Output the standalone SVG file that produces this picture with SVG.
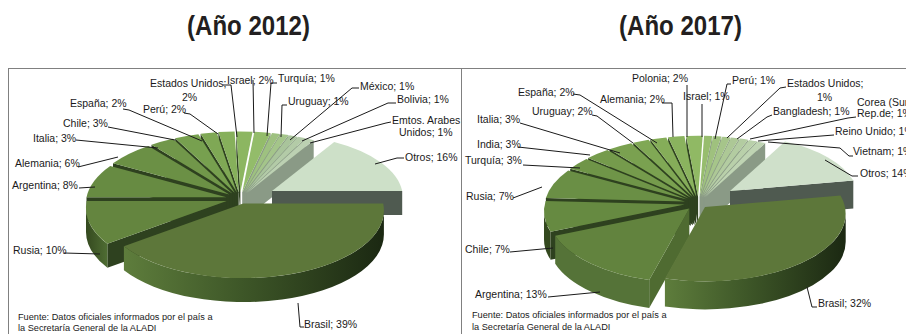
<svg xmlns="http://www.w3.org/2000/svg" width="906" height="334" viewBox="0 0 906 334">
<style>
.frame{fill:none;stroke:#808080;stroke-width:1}
.title{font-family:"Liberation Sans",Arial,sans-serif;font-weight:bold;font-size:27px;fill:#231f20}
.lbl{font-family:"Liberation Sans",Arial,sans-serif;font-size:10.5px;fill:#1a1a1a}
.src{font-family:"Liberation Sans",Arial,sans-serif;font-size:9.2px;fill:#1a1a1a}
.ld{fill:none;stroke:#1a1a1a;stroke-width:1}
.lf{fill:#2e411f}
.rf{fill:#8a9a86}
.of{fill:#4f5a50}
.af{fill:#4f6b31}
</style>
<defs>
<linearGradient id="gBr" x1="0" y1="0" x2="1" y2="0">
<stop offset="0" stop-color="#5e7d3c"/>
<stop offset="0.45" stop-color="#3e5728"/>
<stop offset="1" stop-color="#1b2812"/>
</linearGradient>
<linearGradient id="gRu" x1="0" y1="0" x2="1" y2="0">
<stop offset="0" stop-color="#34491f"/>
<stop offset="1" stop-color="#4f6d33"/>
</linearGradient>
</defs>
<rect width="906" height="334" fill="#ffffff"/>
<text class="title" x="187" y="35" textLength="123" lengthAdjust="spacingAndGlyphs">(Año 2012)</text>
<text class="title" x="619" y="35" textLength="123" lengthAdjust="spacingAndGlyphs">(Año 2017)</text>
<rect class="frame" x="8.5" y="68.5" width="453" height="280"/>
<rect class="frame" x="461.5" y="68.5" width="460" height="280"/>

<g id="pie2012">
<g id="s12-eeuu"><path class="lf" d="M240.4,192.3 L236.3,131.4 L236.3,155.4 L240.4,216.3Z"/><path fill="#8cb661" d="M240.4,192.3 L236.3,131.4 A140.7,67.7 0 0 1 252.6,131.7Z"/></g>
<g id="s12-peru"><path class="lf" d="M238.7,192.3 L218.4,132.1 L218.4,156.1 L238.7,216.3Z"/><path fill="#86b05b" d="M238.7,192.3 L218.4,132.1 A140.7,67.7 0 0 1 234.6,131.4Z"/></g>
<g id="s12-israel"><path class="rf" d="M242.2,192.4 L270.6,132.9 L270.6,156.9 L242.2,216.4Z"/><path fill="#93bc6a" d="M242.2,192.4 L254.4,131.8 A140.7,67.7 0 0 1 270.6,132.9Z"/></g>
<g id="s12-espana"><path class="lf" d="M236.9,192.4 L200.6,133.8 L200.6,157.8 L236.9,216.4Z"/><path fill="#7fa855" d="M236.9,192.4 L200.6,133.8 A140.7,67.7 0 0 1 216.6,132.2Z"/></g>
<g id="s12-turquia"><path class="rf" d="M243.6,192.5 L280,133.9 L280,157.9 L243.6,216.5Z"/><path fill="#9ec180" d="M243.6,192.5 L272,133 A140.7,67.7 0 0 1 280,133.9Z"/></g>
<g id="s12-uruguay"><path class="rf" d="M244.4,192.6 L288.6,135.1 L288.6,159.1 L244.4,216.6Z"/><path fill="#a4c58a" d="M244.4,192.6 L280.8,134 A140.7,67.7 0 0 1 288.6,135.1Z"/></g>
<g id="s12-chile"><path class="lf" d="M234.7,192.8 L175.2,138.2 L175.2,162.2 L234.7,216.8Z"/><path fill="#77a04f" d="M234.7,192.8 L175.2,138.2 A140.7,67.7 0 0 1 198.4,134.2Z"/></g>
<g id="s12-mexico"><path class="rf" d="M245.3,192.8 L297.2,136.7 L297.2,160.7 L245.3,216.8Z"/><path fill="#a9c49b" d="M245.3,192.8 L289.5,135.3 A140.7,67.7 0 0 1 297.2,136.7Z"/></g>
<g id="s12-bolivia"><path class="rf" d="M246.1,192.9 L305.6,138.3 L305.6,162.3 L246.1,216.9Z"/><path fill="#b3cba7" d="M246.1,192.9 L298,136.8 A140.7,67.7 0 0 1 305.6,138.3Z"/></g>
<g id="s12-emtos"><path class="rf" d="M246.9,193.1 L313.7,140.3 L313.7,164.3 L246.9,217.1Z"/><path fill="#bcd1b2" d="M246.9,193.1 L306.4,138.5 A140.7,67.7 0 0 1 313.7,140.3Z"/></g>
<g id="s12-italia"><path class="lf" d="M232.4,193.4 L151.5,144.8 L151.5,168.8 L232.4,217.4Z"/><path fill="#71974a" d="M232.4,193.4 L151.5,144.8 A140.7,67.7 0 0 1 172.9,138.8Z"/></g>
<g id="s12-alemania"><path class="lf" d="M229.3,194.6 L113,163.3 L113,187.3 L229.3,218.6Z"/><path fill="#6b9045" d="M229.3,194.6 L113,163.3 A140.7,67.7 0 0 1 148.4,146Z"/></g>
<g id="s12-otros"><path class="of" d="M272,191 L402.2,191 L402.2,215 L272,215Z"/><path fill="#cde0c8" d="M272,191 L334.2,141.9 A130.9,62.9 0 0 1 402.2,191Z"/></g>
<g id="s12-argentina"><path class="lf" d="M226.5,197.3 L86.5,197.3 L86.5,221.3 L226.5,221.3Z"/><path fill="#678b42" d="M226.5,197.3 L86.5,197.3 A140.7,67.7 0 0 1 110.2,166Z"/></g>
<g id="s12-rusia"><path class="lf" d="M226.7,201.1 L107.4,243.8 L107.4,267.8 L226.7,225.1Z"/><path fill="url(#gRu)" d="M107.4,243.8 A140.7,67.7 0 0 1 86,207.9 L86,231.9 A140.7,67.7 0 0 0 107.4,267.8Z"/><path fill="#64853f" d="M226.7,201.1 L107.4,243.8 A140.7,67.7 0 0 1 86.7,201.1Z"/></g>
<g id="s12-brasil"><path fill="url(#gBr)" d="M383.9,210.4 A140.7,67.7 0 0 1 123.9,246.3 L123.9,270.3 A140.7,67.7 0 0 0 383.9,234.4Z"/><path fill="#5d773a" d="M243.2,203.6 L383.2,203.6 A140.7,67.7 0 0 1 123.9,246.3Z"/></g>
</g>

<g id="pie2017">
<g id="s17-polonia"><path class="lf" d="M698.1,196.7 L686.2,136 L686.2,164 L698.1,224.7Z"/><path fill="#90b964" d="M698.1,196.7 L686.2,136 A140.7,67.7 0 0 1 702.7,135.8Z"/></g>
<g id="s17-israel"><path class="rf" d="M699.5,196.7 L712.3,136.1 L712.3,164.1 L699.5,224.7Z"/><path fill="#97bd6e" d="M699.5,196.7 L704.1,135.8 A140.7,67.7 0 0 1 712.3,136.1Z"/></g>
<g id="s17-peru"><path class="rf" d="M700.4,196.7 L721.4,136.6 L721.4,164.6 L700.4,224.7Z"/><path fill="#9fc17e" d="M700.4,196.7 L713.2,136.1 A140.7,67.7 0 0 1 721.4,136.6Z"/></g>
<g id="s17-alemania"><path class="lf" d="M696.3,196.8 L668.1,137.3 L668.1,165.3 L696.3,224.8Z"/><path fill="#8ab35e" d="M696.3,196.8 L668.1,137.3 A140.7,67.7 0 0 1 684.4,136.1Z"/></g>
<g id="s17-eeuu"><path class="rf" d="M701.3,196.8 L730.4,137.4 L730.4,165.4 L701.3,224.8Z"/><path fill="#a6c58a" d="M701.3,196.8 L722.3,136.7 A140.7,67.7 0 0 1 730.4,137.4Z"/></g>
<g id="s17-bangladesh"><path class="rf" d="M702.1,196.9 L739.3,138.4 L739.3,166.4 L702.1,224.9Z"/><path fill="#adc896" d="M702.1,196.9 L731.2,137.5 A140.7,67.7 0 0 1 739.3,138.4Z"/></g>
<g id="s17-espana"><path class="lf" d="M694.5,197 L650.3,139.5 L650.3,167.5 L694.5,225Z"/><path fill="#85ad59" d="M694.5,197 L650.3,139.5 A140.7,67.7 0 0 1 666.3,137.5Z"/></g>
<g id="s17-corea"><path class="rf" d="M703,197 L748.1,139.7 L748.1,167.7 L703,225Z"/><path fill="#b3cca1" d="M703,197 L740.2,138.5 A140.7,67.7 0 0 1 748.1,139.7Z"/></g>
<g id="s17-reinounido"><path class="rf" d="M703.9,197.2 L756.8,141.3 L756.8,169.3 L703.9,225.2Z"/><path fill="#b9d0aa" d="M703.9,197.2 L749,139.9 A140.7,67.7 0 0 1 756.8,141.3Z"/></g>
<g id="s17-uruguay"><path class="lf" d="M692.8,197.3 L633.2,142.8 L633.2,170.8 L692.8,225.3Z"/><path fill="#80a855" d="M692.8,197.3 L633.2,142.8 A140.7,67.7 0 0 1 648.6,139.8Z"/></g>
<g id="s17-vietnam"><path class="rf" d="M704.7,197.4 L765.2,143.1 L765.2,171.1 L704.7,225.4Z"/><path fill="#bfd4b3" d="M704.7,197.4 L757.6,141.5 A140.7,67.7 0 0 1 765.2,143.1Z"/></g>
<g id="s17-italia"><path class="lf" d="M690.8,197.8 L609.5,149.3 L609.5,177.3 L690.8,225.8Z"/><path fill="#7aa150" d="M690.8,197.8 L609.5,149.3 A140.7,67.7 0 0 1 631.2,143.3Z"/></g>
<g id="s17-india"><path class="lf" d="M688.7,198.6 L588.1,158 L588.1,186 L688.7,226.6Z"/><path fill="#759b4c" d="M688.7,198.6 L588.1,158 A140.7,67.7 0 0 1 607.4,150.1Z"/></g>
<g id="s17-otros"><path class="of" d="M730,191 L853.3,180.6 L853.3,208.6 L730,219Z"/><path fill="#cfe0ca" d="M730,191 L785,141.6 A128,61.6 0 0 1 853.3,180.6Z"/></g>
<g id="s17-turquia"><path class="lf" d="M687,199.6 L570.2,168.7 L570.2,196.7 L687,227.6Z"/><path fill="#6f9548" d="M687,199.6 L570.2,168.7 A140.7,67.7 0 0 1 586.4,159Z"/></g>
<g id="s17-rusia"><path class="lf" d="M685,201.6 L545.9,198.1 L545.9,226.1 L685,229.6Z"/><path fill="#6a8f45" d="M685,201.6 L545.9,198.1 A140.7,67.7 0 0 1 568.2,170.6Z"/></g>
<g id="s17-chile"><path class="lf" d="M684.7,204.6 L550.6,231.8 L550.6,259.8 L684.7,232.6Z"/><path fill="#34491f" d="M550.6,231.8 A140.7,67.7 0 0 1 544,211.4 L544,239.4 A140.7,67.7 0 0 0 550.6,259.8Z"/><path fill="#668a41" d="M684.7,204.6 L550.6,231.8 A140.7,67.7 0 0 1 545.6,201.1Z"/></g>
<g id="s17-argentina"><path class="af" d="M689.3,208.5 L649.2,280.1 L649.2,308.1 L689.3,236.5Z"/><path fill="#557338" d="M649.2,280.1 A140.7,67.7 0 0 1 555.2,235.7 L555.2,263.7 A140.7,67.7 0 0 0 649.2,308.1Z"/><path fill="#62833e" d="M689.3,208.5 L649.2,280.1 A140.7,67.7 0 0 1 555.2,235.7Z"/></g>
<g id="s17-brasil"><path fill="url(#gBr)" d="M845.7,213.8 A140.7,67.7 0 0 1 664.9,278.6 L664.9,306.6 A140.7,67.7 0 0 0 845.7,241.8Z"/><path fill="#5d773a" d="M705,207 L840.5,195.6 A140.7,67.7 0 0 1 664.9,278.6Z"/></g>
</g>

<g id="connectors">
<polyline class="ld" points="223,85 231,85 237,137"/>
<polyline class="ld" points="253,80 254,133"/>
<polyline class="ld" points="277,83 271,83 267,136"/>
<polyline class="ld" points="287,105 282,105 281,137"/>
<polyline class="ld" points="359,88 352,88 290,140"/>
<polyline class="ld" points="396,103 388,103 302,141"/>
<polyline class="ld" points="391,122 386,123 310,143"/>
<polyline class="ld" points="404,158 397,158 375,164"/>
<polyline class="ld" points="123,109 129,110 202,141"/>
<polyline class="ld" points="184,113 190,114 218,134"/>
<polyline class="ld" points="108,127 175,140"/>
<polyline class="ld" points="76,140 158,148"/>
<polyline class="ld" points="78,167 118,157"/>
<polyline class="ld" points="79,188 95,187"/>
<polyline class="ld" points="64,253 100,254"/>
<polyline class="ld" points="298,303 300,327 304,327"/>

<polyline class="ld" points="687,85 687,137"/>
<polyline class="ld" points="702,104 702,137"/>
<polyline class="ld" points="731,84 727,84 715,139"/>
<polyline class="ld" points="786,87 780,88 727,138"/>
<polyline class="ld" points="772,115 767,117 737,139"/>
<polyline class="ld" points="856,117 848,118 750,139"/>
<polyline class="ld" points="834,135 758,141"/>
<polyline class="ld" points="768,142 840,148 849,156 853,156"/>
<polyline class="ld" points="825,160 852,176 858,176"/>
<polyline class="ld" points="573,94 580,95 657,143"/>
<polyline class="ld" points="662,103 672,103 673,137"/>
<polyline class="ld" points="592,115 597,116 633,143"/>
<polyline class="ld" points="520,123 620,153"/>
<polyline class="ld" points="518,147 590,155"/>
<polyline class="ld" points="523,165 580,168"/>
<polyline class="ld" points="513,198 542,187"/>
<polyline class="ld" points="510,252 553,248"/>
<polyline class="ld" points="548,297 600,292"/>
<polyline class="ld" points="807,287 812,307 817,307"/>
</g>

<g id="labels2012">
<text class="lbl" x="150" y="87">Estados Unidos;</text>
<text class="lbl" x="182" y="101">2%</text>
<text class="lbl" x="227" y="84">Israel; 2%</text>
<text class="lbl" x="278" y="82">Turquía; 1%</text>
<text class="lbl" x="360" y="90">México; 1%</text>
<text class="lbl" x="288" y="105">Uruguay; 1%</text>
<text class="lbl" x="397" y="103">Bolivia; 1%</text>
<text class="lbl" x="392" y="124">Emtos. Arabes</text>
<text class="lbl" x="399" y="136">Unidos; 1%</text>
<text class="lbl" x="405" y="161">Otros; 16%</text>
<text class="lbl" x="70" y="107">España; 2%</text>
<text class="lbl" x="143" y="113">Perú; 2%</text>
<text class="lbl" x="63" y="127">Chile; 3%</text>
<text class="lbl" x="33" y="142">Italia; 3%</text>
<text class="lbl" x="15" y="167">Alemania; 6%</text>
<text class="lbl" x="12" y="189">Argentina; 8%</text>
<text class="lbl" x="13" y="254">Rusia; 10%</text>
<text class="lbl" x="304" y="328">Brasil; 39%</text>
<text class="src" x="18" y="320">Fuente: Datos oficiales informados por el país a</text>
<text class="src" x="18" y="331">la Secretaría General de la ALADI</text>
</g>

<g id="labels2017">
<text class="lbl" x="632" y="82">Polonia; 2%</text>
<text class="lbl" x="518" y="96">España; 2%</text>
<text class="lbl" x="600" y="103">Alemania; 2%</text>
<text class="lbl" x="532" y="115">Uruguay; 2%</text>
<text class="lbl" x="477" y="123">Italia; 3%</text>
<text class="lbl" x="477" y="148">India; 3%</text>
<text class="lbl" x="465" y="164">Turquía; 3%</text>
<text class="lbl" x="466" y="200">Rusia; 7%</text>
<text class="lbl" x="465" y="253">Chile; 7%</text>
<text class="lbl" x="475" y="298">Argentina; 13%</text>
<text class="lbl" x="818" y="307">Brasil; 32%</text>
<text class="lbl" x="683" y="100">Israel; 1%</text>
<text class="lbl" x="732" y="84">Perú; 1%</text>
<text class="lbl" x="787" y="87">Estados Unidos;</text>
<text class="lbl" x="817" y="101">1%</text>
<text class="lbl" x="773" y="115">Bangladesh; 1%</text>
<text class="lbl" x="857" y="106">Corea (Sur)</text>
<text class="lbl" x="857" y="117">Rep.de; 1%</text>
<text class="lbl" x="835" y="135">Reino Unido; 1%</text>
<text class="lbl" x="853" y="155">Vietnam; 1%</text>
<text class="lbl" x="860" y="177">Otros; 14%</text>
<text class="src" x="472" y="318">Fuente: Datos oficiales informados por el país a</text>
<text class="src" x="472" y="330">la Secretaría General de la ALADI</text>
</g>
</svg>
